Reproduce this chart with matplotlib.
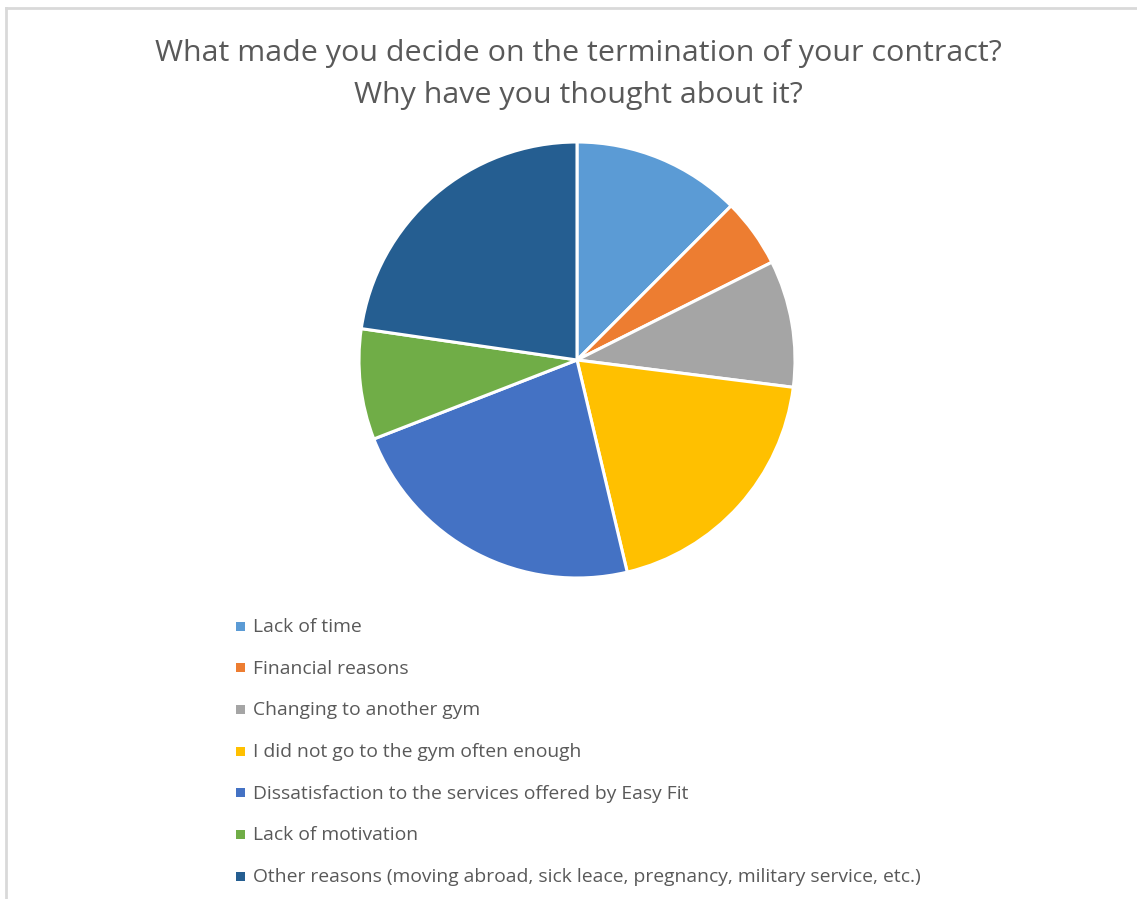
import matplotlib
matplotlib.use("Agg")
import matplotlib.pyplot as plt
from matplotlib.patches import Rectangle
from matplotlib.lines import Line2D

categories = [
    "Lack of time",
    "Financial reasons",
    "Changing to another gym",
    "I did not go to the gym often enough",
    "Dissatisfaction to the services offered by Easy Fit",
    "Lack of motivation",
    "Other reasons (moving abroad, sick leace, pregnancy, military service, etc.)",
]
values = [12.5, 5.1, 9.4, 19.3, 22.8, 8.2, 22.7]
colors = ["#5B9BD5", "#ED7D31", "#A5A5A5", "#FFC000", "#4472C4", "#70AD47", "#255E91"]
title_lines = ["What made you decide on the termination of your contract?",
               "Why have you thought about it?"]

W, H = 1137, 899
fig = plt.figure(figsize=(W / 100, H / 100), dpi=100)
fig.patch.set_facecolor("white")
plt.rcParams["font.family"] = ["Open Sans", "DejaVu Sans"]

# border lines (left and top)
fig.add_artist(Line2D([6 / W, 6 / W], [0, 1 - 8 / H], transform=fig.transFigure, color="#d9d9d9", lw=2))
fig.add_artist(Line2D([6 / W, 1], [1 - 8 / H, 1 - 8 / H], transform=fig.transFigure, color="#d9d9d9", lw=2))

cx, cy, r = 577, 360, 218 * 1.01
ax = fig.add_axes([(cx - r) / W, (H - cy - r) / H, 2 * r / W, 2 * r / H])
ax.pie(values, colors=colors, startangle=90, counterclock=False, radius=1,
       wedgeprops=dict(edgecolor="white", linewidth=2.2))
ax.set_xlim(-1.01, 1.01)
ax.set_ylim(-1.01, 1.01)
ax.set_aspect("equal")
ax.axis("off")

fig.text(578 / W, 1 - 53 / H, title_lines[0], ha="center", va="center", fontsize=21.9, color="#595959")
fig.text(578 / W, 1 - 96 / H, title_lines[1], ha="center", va="center", fontsize=21.9, color="#595959")

for i, (lab, col) in enumerate(zip(categories, colors)):
    y = 626 + i * 41.7
    fig.add_artist(Rectangle((236 / W, 1 - (y + 4.5) / H), 9 / W, 9 / H,
                             transform=fig.transFigure, facecolor=col, edgecolor="none"))
    fig.text(253 / W, 1 - (y + 1) / H, lab, ha="left", va="center", fontsize=13.9, color="#595959")

fig.savefig("out.png", dpi=100)
